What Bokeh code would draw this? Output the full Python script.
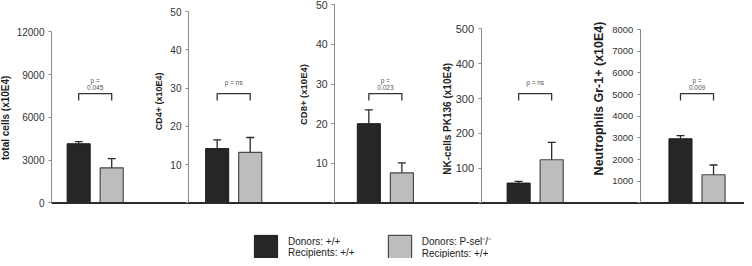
import numpy as np
from bokeh.plotting import figure
from bokeh.models import (Range1d, LinearAxis, FixedTicker, Whisker, TeeHead,
                          ColumnDataSource, Label, Legend, LegendItem)
from bokeh.embed import file_html
from bokeh.resources import INLINE

# ---------------- data ----------------
panel_titles = ["total cells (x10E4)", "CD4+ (x10E4)", "CD8+ (x10E4)",
                "NK-cells PK136 (x10E4)", "Neutrophils Gr-1+ (x10E4)"]
group_labels = ["Donors: +/+\nRecipients: +/+",
                "Donors: P-sel\u207b/\u207b\nRecipients: +/+"]
wt_mean = [4150, 14.2, 20.0, 57, 2960]
wt_err = [150, 2.3, 3.5, 5, 150]
ko_mean = [2460, 13.2, 7.6, 124, 1300]
ko_err = [650, 3.9, 2.5, 50, 450]
p_values = ["p =\n0.045", "p = ns", "p =\n0.023", "p = ns", "p =\n0.009"]
y_max = [12000, 50, 50, 500, 8000]
y_ticks = [[0, 3000, 6000, 9000, 12000],
           [0, 10, 20, 30, 40, 50],
           [0, 10, 20, 30, 40, 50],
           [0, 100, 200, 300, 400, 500],
           [0, 1000, 2000, 3000, 4000, 5000, 6000, 7000, 8000]]
show_zero = [True, False, False, False, False]

# ---------------- layout (reference pixels) ----------------
W, H = 744, 258
SX, SY = 744 / 752, 258 / 266
axis_rx = [51.5, 190, 337.7, 485.7, 646.7]
top_ry = [32.3, 11.5, 4.5, 29.3, 30]
base_ry = 208.7
bar_rx = [79, 219, 372.3, 523.7, 687.3]
step_r = 33.4
barw_r = 23.3
lab_rx = [5, 160, 306.5, 451.5, 604.5]
lab_ry = [121, 104, 97, 122, 101]
lab_size = [10, 9, 9.5, 10, 12.5]
tick_size = [10, 10, 10.5, 11, 9.5]
br_top_r, br_bot_r = 96, 103

FONT = "Liberation Sans"
AX_COL = "#8a8a8a"
DARK = "#262626"
GREY = "#bdbdbd"

p = figure(width=W, height=H, output_backend="svg", toolbar_location=None,
           x_axis_location=None, y_axis_location=None, min_border=0,
           x_range=Range1d(0, W), y_range=Range1d(H, 0),
           outline_line_color=None)
p.grid.visible = False

xr, yr = {}, {}
for i in range(5):
    yb = SY * base_ry
    yt = SY * top_ry[i]
    k = (yb - yt) / y_max[i]
    yr[f"y{i}"] = Range1d(start=(yb - H) / k, end=yb / k)
    c0 = SX * bar_rx[i]
    u = SX * step_r
    xr[f"x{i}"] = Range1d(start=-c0 / u, end=(W - c0) / u)
p.extra_y_ranges = yr
p.extra_x_ranges = xr

black_renderers, grey_renderers = [], []
for i in range(5):
    xn, yn = f"x{i}", f"y{i}"
    bw = barw_r / step_r
    rb = p.vbar(x=[0], top=[wt_mean[i]], bottom=0, width=bw, x_range_name=xn,
                y_range_name=yn, fill_color=DARK, line_color="#1a1a1a", line_width=1)
    rg = p.vbar(x=[1], top=[ko_mean[i]], bottom=0, width=bw, x_range_name=xn,
                y_range_name=yn, fill_color=GREY, line_color="#4a4a4a", line_width=1.2)
    black_renderers.append(rb)
    grey_renderers.append(rg)

    src = ColumnDataSource(dict(base=[0, 1],
                                lower=[wt_mean[i], ko_mean[i]],
                                upper=[wt_mean[i] + wt_err[i], ko_mean[i] + ko_err[i]]))
    wh = Whisker(source=src, base="base", lower="lower", upper="upper",
                 dimension="height", x_range_name=xn, y_range_name=yn,
                 line_color="#2a2a2a", line_width=1.3,
                 upper_head=TeeHead(size=8, line_color="#2a2a2a", line_width=1.3),
                 lower_head=None, level="glyph")
    p.add_layout(wh)

    ax = LinearAxis(y_range_name=yn, fixed_location=SX * axis_rx[i],
                    bounds=(0, y_max[i]), ticker=FixedTicker(ticks=y_ticks[i]),
                    axis_line_color=AX_COL, axis_line_width=1,
                    major_tick_line_color=AX_COL, major_tick_out=3, major_tick_in=0,
                    minor_tick_line_color=None,
                    major_label_text_font=FONT,
                    major_label_text_font_size=f"{tick_size[i]}px",
                    major_label_text_color="#333333", major_label_standoff=4)
    if not show_zero[i]:
        ax.major_label_overrides = {0: ""}
    p.add_layout(ax, "left")

    # axis title
    p.add_layout(Label(x=SX * lab_rx[i], y=SY * lab_ry[i], text=panel_titles[i],
                       angle=np.pi / 2, text_align="center", text_baseline="middle",
                       text_font=FONT, text_font_style="bold",
                       text_font_size=f"{lab_size[i]}px", text_color="#1e1e1e"))

    # significance bracket
    p.multi_line(xs=[[0, 0, 1, 1]],
                 ys=[[SY * br_bot_r, SY * br_top_r, SY * br_top_r, SY * br_bot_r]],
                 x_range_name=xn, line_color="#333333", line_width=1.3)
    two = "\n" in p_values[i]
    p.add_layout(Label(x=0.5, x_range_name=xn, y=SY * (86.0 if two else 84.5),
                       text=p_values[i], text_align="center", text_baseline="middle",
                       text_font=FONT, text_font_size="6.5px", text_color="#555555",
                       text_line_height=1.05))

# continuous baseline
p.segment(x0=[SX * axis_rx[0]], x1=[W], y0=[0], y1=[0], y_range_name="y0",
          line_color="#2b2b2b", line_width=2)

legend = Legend(items=[LegendItem(label=group_labels[0], renderers=[black_renderers[0]]),
                       LegendItem(label=group_labels[1], renderers=[grey_renderers[0]])],
                orientation="horizontal", location=(251, -3),
                glyph_width=29, glyph_height=29, label_standoff=8, spacing=30,
                padding=0, margin=0, border_line_color=None, background_fill_alpha=0,
                label_text_font=FONT, label_text_font_size="10px",
                label_text_line_height=1.0, label_text_color="#222222")
p.add_layout(legend, "center")

open("out.html", "w").write(file_html(p, INLINE))
